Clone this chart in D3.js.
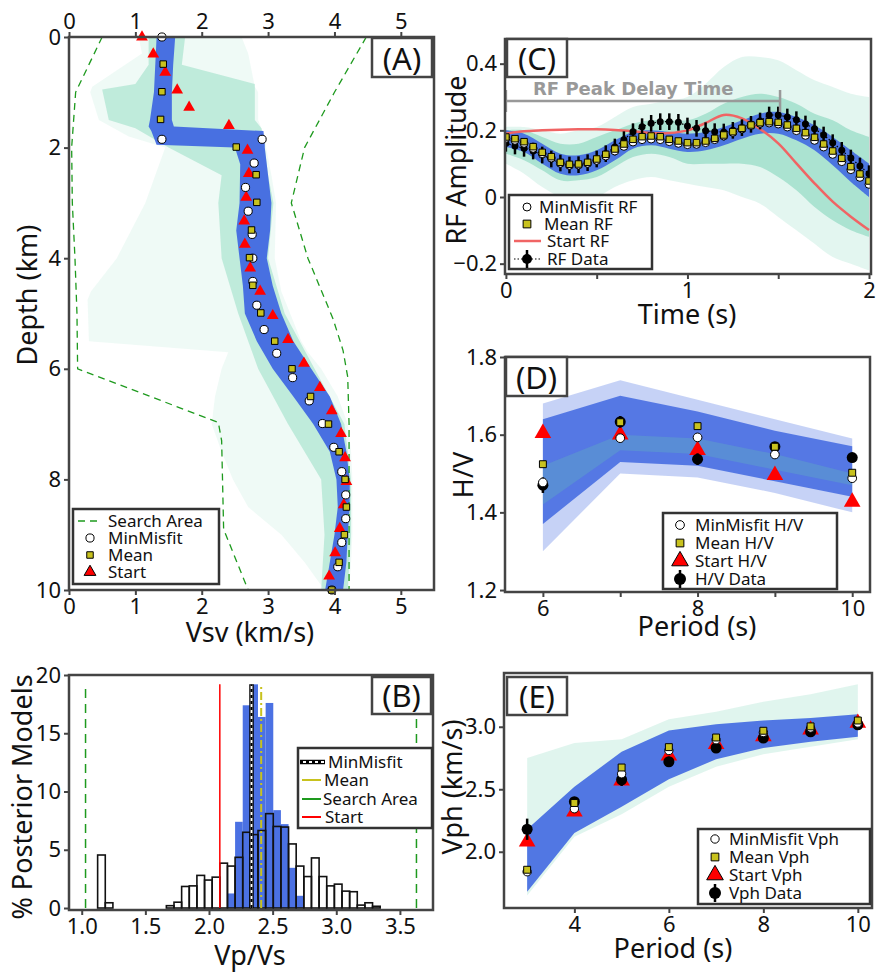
<!DOCTYPE html>
<html lang="en">
<head>
<meta charset="UTF-8">
<title>Joint inversion results</title>
<script src="https://d3js.org/d3.v7.min.js"></script>
<style>
  body { margin: 0; background: #fff; }
  svg { display: block; font-family: 'Noto Sans', sans-serif; }
  .frame { fill: none; stroke: #444; stroke-width: 2.5; }
  .tick line { stroke: #444; stroke-width: 2; }
  .tick text { font-size: 22px; fill: #111; font-family: 'Noto Sans', sans-serif; }
  .ax-title { font-size: 27px; fill: #111; }
  .leg text { font-size: 17px; fill: #111; }
  .plabel { font-size: 31px; fill: #111; }
</style>
</head>
<body>
<svg width="876" height="978"></svg>
<script>
// ---------- (A) Vsv vs depth ----------
const searchLeft = [[0.5,0],[0.3,0.5],[0.1,1.0],[0.04,2.0],[0.05,3.0],[0.09,4.0],[0.12,5.0],[0.13,6.0],[2.25,6.97],[2.3,7.3],[2.33,8.9],[2.7,10]];
const searchRight = [[4.48,0],[4.0,1.0],[3.55,2.0],[3.35,3.0],[3.6,4.0],[3.98,5.1],[4.13,5.67],[4.2,6.15],[4.22,7.0],[4.22,10]];

const aBandDepth  = [0, 0.5, 1.0, 1.5, 1.62, 1.7, 1.95, 2.0, 2.3, 3.0, 3.5, 4.0, 4.5, 5.0, 5.5, 6.0, 6.5, 7.0, 7.5, 8.0, 8.5, 9.0, 9.5, 10];
const aBlueLo     = [1.32,1.30,1.28,1.22,1.20,1.24,1.32,2.5,2.58,2.57,2.52,2.57,2.62,2.65,2.83,3.07,3.38,3.68,3.93,4.03,4.05,4.0,3.93,3.86];
const aBlueHi     = [1.6,1.57,1.55,1.55,1.58,2.93,2.95,2.95,2.98,3.05,3.03,2.98,3.07,3.2,3.38,3.65,3.93,4.1,4.18,4.23,4.23,4.2,4.18,4.13];

const aGreenDepth = [0, 0.3, 0.9, 1.0, 1.5, 1.8, 2.0, 2.5, 3.0, 4.0, 4.6, 4.75, 5.5, 5.7, 6.0, 6.5, 7.0, 7.5, 8.0, 8.5, 9.0, 9.5, 10];
const aGreenLo    = [1.05,1.1,0.35,0.32,0.45,0.9,1.45,1.3,1.15,0.72,0.33,0.28,0.3,2.4,2.3,2.2,2.15,2.3,2.47,2.7,3.2,3.55,3.85];
const aGreenHi    = [2.6,2.7,2.8,2.85,2.85,2.95,2.97,3.05,3.12,3.1,3.2,3.25,3.5,3.6,3.8,4.05,4.2,4.25,4.27,4.27,4.27,4.25,4.22];

const aCoreDepth  = [0, 0.5, 0.85, 0.95, 1.5, 1.65, 2.0, 2.5, 3, 4, 5, 6, 7, 8, 9, 10];
const aCoreLo     = [1.2,1.2,1.0,0.5,0.6,1.0,1.5,2.3,2.25,2.3,2.55,2.85,3.3,3.8,3.85,3.8];
const aCoreHi     = [1.75,1.7,2.8,2.8,2.8,2.9,2.95,3.0,3.08,3.0,3.25,3.7,4.15,4.25,4.25,4.2];

const aMinMisfit = [[1.40,0],[1.40,1.85],[2.91,1.85],[2.79,2.28],[2.66,2.72],[2.70,3.15],[2.76,3.57],[2.77,4.0],[2.77,4.42],[2.83,4.85],[2.94,5.29],[3.13,5.72],[3.37,6.16],[3.62,6.58],[3.82,6.99],[3.99,7.42],[4.11,7.86],[4.17,8.28],[4.17,8.71],[4.11,9.14],[4.05,9.58],[3.96,10.0]];
const aMean = [[1.42,0.49],[1.40,0.99],[1.38,1.49],[2.52,1.99],[2.82,2.49],[2.83,2.99],[2.75,3.49],[2.72,3.99],[2.77,4.49],[2.89,4.99],[3.10,5.50],[3.36,6.0],[3.64,6.5],[3.91,7.0],[4.07,7.5],[4.16,8.0],[4.18,8.5],[4.15,9.0],[4.07,9.5],[3.96,10.0]];
const aStart = [[1.10,0.0],[1.27,0.31],[1.45,0.64],[1.63,0.96],[1.81,1.27],[2.41,1.6],[2.69,2.05],[2.71,2.47],[2.67,2.9],[2.64,3.33],[2.65,3.75],[2.73,4.18],[2.88,4.6],[3.07,5.04],[3.30,5.47],[3.54,5.9],[3.78,6.34],[3.96,6.76],[4.10,7.17],[4.16,7.61],[4.18,8.04],[4.14,8.46],[4.08,8.89],[4.01,9.33],[3.92,9.75]];

// ---------- (B) Vp/Vs histogram ----------
const vpvsBinStart = 1.125, vpvsBinWidth = 0.06;
const priorPct = [4.55,0.45,0,0,0,0,0,0,0,0.2,0.5,1.85,1.9,2.8,2.4,2.65,3.85,3.6,4.35,6.5,6.3,6.65,8.1,7.0,6.95,5.5,3.6,2.7,4.3,2.7,1.9,2.05,1.45,1.4,0.25,0.45,0.15];
const postPct  = [0,0,0,0,0,0,0,0,0,0,0,0,0,0,0,0,0,1.25,7.4,17.4,19.2,16.4,17.6,8.4,7.2,3.45,1.05,0,0,0,0,0,0,0,0,0,0];
const vpvsLines = { minMisfit: 2.334, mean: 2.41, start: 2.085, searchLo: 1.03, searchHi: 3.63, top: 19.2 };

// ---------- (C) receiver function ----------
const rfTime = d3.range(41).map(i => i * 0.05);
const rfMean = [0.180,0.175,0.166,0.151,0.134,0.121,0.104,0.098,0.099,0.104,0.114,0.128,0.144,0.159,0.173,0.181,0.183,0.181,0.173,0.168,0.163,0.163,0.168,0.176,0.186,0.196,0.206,0.216,0.223,0.226,0.224,0.216,0.206,0.193,0.179,0.159,0.138,0.116,0.091,0.069,0.048];
const rfMinMisfit = [0.176,0.170,0.161,0.146,0.130,0.117,0.101,0.095,0.096,0.101,0.110,0.123,0.138,0.152,0.165,0.172,0.174,0.172,0.166,0.161,0.157,0.158,0.163,0.172,0.183,0.194,0.204,0.214,0.221,0.222,0.219,0.210,0.199,0.185,0.170,0.150,0.128,0.106,0.082,0.059,0.038];
const rfData = [0.161,0.153,0.146,0.138,0.126,0.114,0.102,0.096,0.097,0.103,0.114,0.130,0.150,0.172,0.196,0.211,0.221,0.226,0.226,0.224,0.213,0.206,0.199,0.196,0.195,0.200,0.208,0.218,0.228,0.246,0.246,0.240,0.232,0.219,0.205,0.186,0.163,0.140,0.117,0.093,0.070];
const rfErr = 0.025;
const rfBandTime = [0,0.1,0.2,0.3,0.4,0.5,0.6,0.7,0.8,0.9,1.0,1.1,1.2,1.3,1.4,1.5,1.6,1.7,1.8,1.9,2.0];
const rfStart   = [0.19,0.197,0.2,0.202,0.203,0.203,0.201,0.197,0.192,0.192,0.2,0.222,0.246,0.236,0.204,0.161,0.101,0.041,-0.014,-0.059,-0.099];
const rfBlueLo  = [0.15,0.135,0.1,0.07,0.065,0.08,0.11,0.145,0.155,0.145,0.135,0.14,0.155,0.175,0.19,0.19,0.17,0.14,0.095,0.045,0.0];
const rfBlueHi  = [0.2,0.19,0.16,0.13,0.125,0.14,0.17,0.195,0.2,0.195,0.19,0.195,0.21,0.23,0.25,0.255,0.24,0.215,0.18,0.14,0.1];
const rfGreenLo = [0.10,0.07,0.03,0.0,-0.01,0.0,0.03,0.05,0.06,0.05,0.04,0.03,0.02,0.0,-0.02,-0.06,-0.1,-0.14,-0.18,-0.2,-0.22];
const rfGreenHi = [0.21,0.21,0.2,0.19,0.2,0.21,0.24,0.27,0.28,0.29,0.3,0.34,0.39,0.42,0.42,0.41,0.38,0.35,0.33,0.31,0.3];
const rfCoreLo  = [0.13,0.11,0.08,0.05,0.05,0.06,0.09,0.12,0.13,0.12,0.1,0.1,0.1,0.1,0.09,0.06,0.02,-0.03,-0.07,-0.1,-0.12];
const rfCoreHi  = [0.2,0.2,0.18,0.16,0.16,0.18,0.2,0.22,0.23,0.23,0.23,0.25,0.28,0.3,0.31,0.3,0.28,0.25,0.23,0.2,0.18];
const rfPeak = { t: 1.51, amp: 0.288 };

// ---------- (D) H/V ----------
const hvPeriod = [6, 7, 8, 9, 10];
const hvData = [1.470, 1.633, 1.537, 1.569, 1.541];
const hvErr = [0.02, 0.015, 0.015, 0.012, 0.012];
const hvMinMisfit = [1.477, 1.591, 1.593, 1.549, 1.488];
const hvMean = [1.524, 1.632, 1.622, 1.569, 1.502];
const hvStart = [1.604, 1.600, 1.560, 1.496, 1.427];
const hvOuterLo = [1.30, 1.50, 1.49, 1.45, 1.40];
const hvOuterHi = [1.68, 1.74, 1.69, 1.64, 1.59];
const hvInnerLo = [1.37, 1.53, 1.52, 1.48, 1.44];
const hvInnerHi = [1.64, 1.70, 1.66, 1.61, 1.57];
const hvCoreLo = [1.42, 1.56, 1.55, 1.51, 1.47];
const hvCoreHi = [1.52, 1.60, 1.59, 1.55, 1.50];

// ---------- (E) Vph dispersion ----------
const vphPeriod = [3, 4, 5, 6, 7, 8, 9, 10];
const vphData = [2.18, 2.40, 2.576, 2.72, 2.83, 2.91, 2.96, 3.016];
const vphErr = [0.085, 0.03, 0.05, 0.04, 0.03, 0.025, 0.025, 0.02];
const vphMinMisfit = [1.84, 2.344, 2.624, 2.81, 2.896, 2.954, 2.99, 3.03];
const vphMean = [1.856, 2.39, 2.674, 2.837, 2.914, 2.968, 3.003, 3.05];
const vphStart = [2.08, 2.32, 2.568, 2.768, 2.86, 2.922, 2.976, 3.03];
const vphGreenLo = [1.65, 2.12, 2.30, 2.52, 2.68, 2.78, 2.84, 2.90];
const vphGreenHi = [2.75, 2.87, 2.90, 3.06, 3.12, 3.20, 3.26, 3.34];
const vphBlueLo = [1.68, 2.15, 2.36, 2.58, 2.74, 2.83, 2.88, 2.92];
const vphBlueHi = [2.18, 2.52, 2.80, 2.97, 3.02, 3.05, 3.07, 3.10];

// ---------- styles ----------
const BLUE = "#4169e1", GREEN = "#66cdaa", RED = "#ff0000", YEL = "#c8c21e", SEARCH = "#1e9a1e";

const svg = d3.select("svg");

function frame(x, y) {
  const [x0, x1] = x.range(), [y1, y0] = y.range();
  return svg.append("rect").attr("class", "frame")
    .attr("x", x0).attr("y", Math.min(y0, y1)).attr("width", x1 - x0).attr("height", Math.abs(y1 - y0));
}
function axis(gen, tx, ty) {
  const g = svg.append("g").attr("transform", `translate(${tx},${ty})`).call(gen);
  g.select(".domain").remove();
  return g;
}
function clipFor(id, x, y) {
  const [x0, x1] = x.range(), [y1, y0] = y.range();
  svg.append("clipPath").attr("id", id).append("rect")
    .attr("x", x0).attr("y", Math.min(y0, y1)).attr("width", x1 - x0).attr("height", Math.abs(y1 - y0));
  return svg.append("g").attr("clip-path", `url(#${id})`);
}
function sym(g, type, size, fill, stroke, sw) {
  return g.attr("d", d3.symbol().type(type).size(size)).attr("fill", fill)
    .attr("stroke", stroke).attr("stroke-width", sw);
}
function markers(g, pts, type, size, fill, stroke) {
  g.selectAll(null).data(pts).enter().append("path")
    .attr("transform", d => `translate(${d[0]},${d[1]})`)
    .call(s => sym(s, type, size, fill, stroke, 1));
}
function plabel(x, y, w, h, txt) {
  svg.append("rect").attr("x", x).attr("y", y).attr("width", w).attr("height", h)
    .attr("fill", "#fff").attr("stroke", "#444").attr("stroke-width", 2.5);
  svg.append("text").attr("class", "plabel").attr("x", x + w / 2).attr("y", y + h - 7)
    .attr("text-anchor", "middle").text(txt);
}
function title(txt, x, y, rot) {
  svg.append("text").attr("class", "ax-title").attr("text-anchor", "middle")
    .attr("transform", `translate(${x},${y})` + (rot ? " rotate(-90)" : "")).text(txt);
}
function legendBox(x, y, w, h) {
  const g = svg.append("g").attr("class", "leg");
  g.append("rect").attr("x", x).attr("y", y).attr("width", w).attr("height", h)
    .attr("fill", "#fff").attr("stroke", "#333").attr("stroke-width", 2.5);
  return g;
}
function legText(g, x, y, txt) {
  g.append("text").attr("x", x).attr("y", y).attr("dy", "0.35em").text(txt);
}
function legSym(g, x, y, type, size, fill) {
  g.append("path").attr("transform", `translate(${x},${y})`).call(s => sym(s, type, size, fill, "#000", 1));
}
function legData(g, x, y, r, dotted) {
  if (dotted) g.append("line").attr("x1", x - 13).attr("x2", x + 13).attr("y1", y).attr("y2", y)
    .attr("stroke", "#000").attr("stroke-width", 1.2).attr("stroke-dasharray", "1.5,2");
  g.append("line").attr("x1", x).attr("x2", x).attr("y1", y - 9).attr("y2", y + 9).attr("stroke", "#000").attr("stroke-width", 2.5);
  g.append("circle").attr("cx", x).attr("cy", y).attr("r", r).attr("fill", "#000");
}
function errData(g, xs, vals, errs, x, y, r) {
  const pts = xs.map((p, i) => ({ p, v: vals[i], e: Array.isArray(errs) ? errs[i] : errs }));
  g.selectAll(null).data(pts).enter().append("line")
    .attr("x1", d => x(d.p)).attr("x2", d => x(d.p))
    .attr("y1", d => y(d.v - d.e)).attr("y2", d => y(d.v + d.e))
    .attr("stroke", "#000").attr("stroke-width", 2.5);
  g.selectAll(null).data(pts).enter().append("circle")
    .attr("cx", d => x(d.p)).attr("cy", d => y(d.v)).attr("r", r).attr("fill", "#000");
}
const SQ = 42, CI = 52, TRI = 60;

// ================= Panel A =================
{
  const x = d3.scaleLinear().domain([0, 5.5]).range([69, 434]);
  const y = d3.scaleLinear().domain([0, 10]).range([37, 590]);
  const g = clipFor("clipA", x, y);
  const band = (dep, lo, hi, col, op) => g.append("path")
    .datum(dep.map((d, i) => [d, lo[i], hi[i]]))
    .attr("d", d3.area().y(d => y(d[0])).x0(d => x(d[1])).x1(d => x(d[2])))
    .attr("fill", col).attr("opacity", op);
  band(aGreenDepth, aGreenLo, aGreenHi, GREEN, 0.1);
  band(aCoreDepth, aCoreLo, aCoreHi, GREEN, 0.35);
  band(aBandDepth, aBlueLo, aBlueHi, BLUE, 0.95);
  const ln = d3.line().x(d => x(d[0])).y(d => y(d[1]));
  [searchLeft, searchRight].forEach(s => g.append("path").attr("d", ln(s)).attr("fill", "none")
    .attr("stroke", SEARCH).attr("stroke-width", 1.3).attr("stroke-dasharray", "7,5"));
  const m = svg.append("g");
  markers(m, aStart.map(d => [x(d[0]), y(d[1])]), d3.symbolTriangle, TRI, RED, "none");
  markers(m, aMinMisfit.map(d => [x(d[0]), y(d[1])]), d3.symbolCircle, CI, "#fff", "#000");
  markers(m, aMean.map(d => [x(d[0]), y(d[1])]), d3.symbolSquare, SQ, YEL, "#000");
  frame(x, y);
  axis(d3.axisTop(x).tickValues([0,1,2,3,4,5]).tickFormat(d3.format("d")).tickSize(5).tickPadding(3), 0, 37);
  axis(d3.axisBottom(x).tickValues([0,1,2,3,4,5]).tickFormat(d3.format("d")).tickSize(5).tickPadding(3), 0, 590);
  axis(d3.axisLeft(y).tickValues([0,2,4,6,8,10]).tickFormat(d3.format("d")).tickSize(5).tickPadding(3), 69, 0);
  title("Depth (km)", 37, 295, true);
  title("Vsv (km/s)", 250, 642, false);
  plabel(372, 38, 60, 39, "(A)");
  const L = legendBox(73, 509, 146, 75);
  L.append("line").attr("x1", 78).attr("x2", 102).attr("y1", 521).attr("y2", 521)
    .attr("stroke", SEARCH).attr("stroke-width", 1.3).attr("stroke-dasharray", "7,5");
  legSym(L, 90, 538, d3.symbolCircle, CI, "#fff");
  legSym(L, 90, 555, d3.symbolSquare, SQ, YEL);
  legSym(L, 90, 572, d3.symbolTriangle, TRI, RED);
  legText(L, 108, 521, "Search Area");
  legText(L, 108, 538, "MinMisfit");
  legText(L, 108, 555, "Mean");
  legText(L, 108, 572, "Start");
}

// ================= Panel B =================
{
  const x = d3.scaleLinear().domain([0.9, 3.76]).range([69, 433]);
  const y = d3.scaleLinear().domain([-0.17, 20]).range([910, 675]);
  const bins = priorPct.map((p, i) => ({ x0: vpvsBinStart + i * vpvsBinWidth, prior: p, post: postPct[i] }));
  const bw = x(vpvsBinWidth) - x(0);
  svg.append("g").selectAll("rect").data(bins.filter(b => b.post > 0)).enter().append("rect")
    .attr("x", d => x(d.x0)).attr("width", bw).attr("y", d => y(d.post)).attr("height", d => y(0) - y(d.post))
    .attr("fill", BLUE).attr("opacity", 0.95);
  svg.append("g").selectAll("rect").data(bins.filter(b => b.prior > 0)).enter().append("rect")
    .attr("x", d => x(d.x0)).attr("width", bw).attr("y", d => y(d.prior)).attr("height", d => y(0) - y(d.prior))
    .attr("fill", "none").attr("stroke", "#111").attr("stroke-width", 1.6);
  const vline = (v, col, w, dash) => svg.append("line").attr("x1", x(v)).attr("x2", x(v))
    .attr("y1", y(0)).attr("y2", y(vpvsLines.top)).attr("stroke", col).attr("stroke-width", w)
    .attr("stroke-dasharray", dash);
  vline(vpvsLines.searchLo, SEARCH, 1.5, "9,6");
  vline(vpvsLines.searchHi, SEARCH, 1.5, "9,6");
  vline(vpvsLines.start, RED, 1.5, null);
  vline(vpvsLines.minMisfit, "#000", 4.5, null);
  vline(vpvsLines.minMisfit, "#fff", 2, null);
  vline(vpvsLines.minMisfit, "#000", 2, "3,3");
  vline(vpvsLines.mean, YEL, 2, "8,3,2,3");
  frame(x, y);
  axis(d3.axisBottom(x).tickValues([1.0,1.5,2.0,2.5,3.0,3.5]).tickFormat(d3.format(".1f")).tickSize(5).tickPadding(3), 0, 910);
  axis(d3.axisLeft(y).tickValues([0,5,10,15,20]).tickSize(5).tickPadding(3), 69, 0);
  title("% Posterior Models", 32, 797, true);
  title("Vp/Vs", 250, 965, false);
  plabel(372, 677, 59, 37, "(B)");
  const L = legendBox(298, 748, 134, 80);
  L.append("line").attr("x1", 300).attr("x2", 325).attr("y1", 762).attr("y2", 762).attr("stroke", "#000").attr("stroke-width", 4.5);
  L.append("line").attr("x1", 300).attr("x2", 325).attr("y1", 762).attr("y2", 762).attr("stroke", "#fff").attr("stroke-width", 2);
  L.append("line").attr("x1", 300).attr("x2", 325).attr("y1", 762).attr("y2", 762).attr("stroke", "#000").attr("stroke-width", 2).attr("stroke-dasharray", "3,3");
  [[YEL, 780], [SEARCH, 799], [RED, 817]].forEach(([c, yy]) =>
    L.append("line").attr("x1", 302).attr("x2", 321).attr("y1", yy).attr("y2", yy).attr("stroke", c).attr("stroke-width", 2));
  legText(L, 328, 762, "MinMisfit");
  legText(L, 324, 780, "Mean");
  legText(L, 323, 799, "Search Area");
  legText(L, 325, 817, "Start");
}

// ================= Panel C =================
{
  const x = d3.scaleLinear().domain([-0.005, 2.011]).range([505, 871]);
  const y = d3.scaleLinear().domain([-0.231, 0.474]).range([274, 39]);
  const g = clipFor("clipC", x, y);
  const band = (lo, hi, col, op) => g.append("path")
    .datum(rfBandTime.map((t, i) => [t, lo[i], hi[i]]))
    .attr("d", d3.area().curve(d3.curveCatmullRom).x(d => x(d[0])).y0(d => y(d[1])).y1(d => y(d[2])))
    .attr("fill", col).attr("opacity", op);
  band(rfGreenLo, rfGreenHi, GREEN, 0.18);
  band(rfCoreLo, rfCoreHi, GREEN, 0.45);
  band(rfBlueLo, rfBlueHi, BLUE, 0.9);
  g.append("path").datum(rfBandTime.map((t, i) => [t, rfStart[i]]))
    .attr("d", d3.line().curve(d3.curveCatmullRom).x(d => x(d[0])).y(d => y(d[1])))
    .attr("fill", "none").attr("stroke", "#f06464").attr("stroke-width", 2.5);
  g.append("path").datum(rfTime.map((t, i) => [t, rfData[i]]))
    .attr("d", d3.line().x(d => x(d[0])).y(d => y(d[1])))
    .attr("fill", "none").attr("stroke", "#000").attr("stroke-width", 1.2).attr("stroke-dasharray", "1.5,2");
  errData(g, rfTime, rfData, rfErr, x, y, 3.5);
  markers(g, rfTime.map((t, i) => [x(t), y(rfMinMisfit[i])]), d3.symbolCircle, 50, "#fff", "#000");
  markers(g, rfTime.map((t, i) => [x(t), y(rfMean[i])]), d3.symbolSquare, 42, YEL, "#000");
  // peak delay annotation
  const py = y(rfPeak.amp);
  svg.append("line").attr("x1", x(0)).attr("x2", x(rfPeak.t)).attr("y1", py).attr("y2", py).attr("stroke", "#999").attr("stroke-width", 2.5);
  [0, rfPeak.t].forEach(t => svg.append("line").attr("x1", x(t)).attr("x2", x(t)).attr("y1", py - 11).attr("y2", py + 11).attr("stroke", "#999").attr("stroke-width", 2.5));
  svg.append("text").attr("x", 533).attr("y", 95).attr("fill", "#999")
    .style("font-family", "'DejaVu Sans', sans-serif").style("font-weight", "bold").style("font-size", "18px")
    .text("RF Peak Delay Time");
  frame(x, y);
  axis(d3.axisBottom(x).tickValues([0,0.5,1,1.5,2]).tickFormat(d => d % 1 === 0 ? d : "").tickSize(5).tickPadding(3), 0, 274);
  axis(d3.axisLeft(y).tickValues([-0.2,0,0.2,0.4]).tickFormat(d => d === 0 ? "0" : d3.format(".1f")(d)).tickSize(5).tickPadding(3), 505, 0);
  title("RF Amplitude", 466, 160, true);
  title("Time (s)", 687, 324, false);
  plabel(507, 39, 60, 38, "(C)");
  const L = legendBox(509, 195, 143, 74);
  legSym(L, 527, 207, d3.symbolCircle, 50, "#fff");
  legSym(L, 527, 224, d3.symbolSquare, 60, YEL);
  L.append("line").attr("x1", 514).attr("x2", 541).attr("y1", 241).attr("y2", 241).attr("stroke", "#f06464").attr("stroke-width", 2.5);
  legData(L, 527, 259, 5, true);
  legText(L, 539, 207, "MinMisfit RF");
  legText(L, 544, 224, "Mean RF");
  legText(L, 547, 241, "Start RF");
  legText(L, 547, 259, "RF Data");
}

// ================= Panel D =================
{
  const x = d3.scaleLinear().domain([5.51, 10.23]).range([505, 870]);
  const y = d3.scaleLinear().domain([1.195, 1.8]).range([592, 357]);
  const g = clipFor("clipD", x, y);
  const band = (lo, hi, col, op) => g.append("path")
    .datum(hvPeriod.map((p, i) => [p, lo[i], hi[i]]))
    .attr("d", d3.area().x(d => x(d[0])).y0(d => y(d[1])).y1(d => y(d[2])))
    .attr("fill", col).attr("opacity", op);
  band(hvOuterLo, hvOuterHi, BLUE, 0.3);
  band(hvInnerLo, hvInnerHi, BLUE, 0.85);
  band(hvCoreLo, hvCoreHi, GREEN, 0.25);
  markers(g, hvPeriod.map((p, i) => [x(p), y(hvStart[i])]), d3.symbolTriangle, 120, RED, "none");
  errData(g, hvPeriod, hvData, hvErr, x, y, 5.5);
  markers(g, hvPeriod.map((p, i) => [x(p), y(hvMinMisfit[i])]), d3.symbolCircle, 60, "#fff", "#000");
  markers(g, hvPeriod.map((p, i) => [x(p), y(hvMean[i])]), d3.symbolSquare, 48, YEL, "#000");
  frame(x, y);
  axis(d3.axisBottom(x).tickValues([6,7,8,9,10]).tickFormat(d => d % 2 === 0 ? d : "").tickSize(5).tickPadding(3), 0, 592);
  axis(d3.axisLeft(y).tickValues([1.2,1.4,1.6,1.8]).tickFormat(d3.format(".1f")).tickSize(5).tickPadding(3), 505, 0);
  title("H/V", 473, 475, true);
  title("Period (s)", 697, 636, false);
  plabel(506, 357, 61, 39, "(D)");
  const L = legendBox(663, 513, 174, 76);
  legSym(L, 680, 525, d3.symbolCircle, 60, "#fff");
  legSym(L, 680, 543, d3.symbolSquare, 60, YEL);
  legSym(L, 680, 561, d3.symbolTriangle, 120, RED);
  legData(L, 680, 579, 6, false);
  legText(L, 695, 525, "MinMisfit H/V");
  legText(L, 695, 543, "Mean H/V");
  legText(L, 695, 561, "Start H/V");
  legText(L, 695, 579, "H/V Data");
}

// ================= Panel E =================
{
  const x = d3.scaleLinear().domain([2.51, 10.3]).range([504, 872]);
  const y = d3.scaleLinear().domain([1.55, 3.43]).range([908, 673]);
  const g = clipFor("clipE", x, y);
  const band = (lo, hi, col, op) => g.append("path")
    .datum(vphPeriod.map((p, i) => [p, lo[i], hi[i]]))
    .attr("d", d3.area().x(d => x(d[0])).y0(d => y(d[1])).y1(d => y(d[2])))
    .attr("fill", col).attr("opacity", op);
  band(vphGreenLo, vphGreenHi, GREEN, 0.2);
  band(vphBlueLo, vphBlueHi, BLUE, 0.9);
  markers(g, vphPeriod.map((p, i) => [x(p), y(vphStart[i])]), d3.symbolTriangle, 120, RED, "none");
  errData(g, vphPeriod, vphData, vphErr, x, y, 5.5);
  markers(g, vphPeriod.map((p, i) => [x(p), y(vphMinMisfit[i])]), d3.symbolCircle, 55, "#fff", "#000");
  markers(g, vphPeriod.map((p, i) => [x(p), y(vphMean[i])]), d3.symbolSquare, 48, YEL, "#000");
  frame(x, y);
  axis(d3.axisBottom(x).tickValues([4,6,8,10]).tickSize(5).tickPadding(3), 0, 908);
  axis(d3.axisLeft(y).tickValues([2.0,2.5,3.0]).tickFormat(d3.format(".1f")).tickSize(5).tickPadding(3), 504, 0);
  title("Vph (km/s)", 462, 787, true);
  title("Period (s)", 673, 958, false);
  plabel(507, 677, 60, 38, "(E)");
  const L = legendBox(698, 829, 172, 75);
  legSym(L, 715, 839, d3.symbolCircle, 55, "#fff");
  legSym(L, 715, 857, d3.symbolSquare, 60, YEL);
  legSym(L, 715, 875, d3.symbolTriangle, 120, RED);
  legData(L, 715, 893, 6, false);
  legText(L, 729, 839, "MinMisfit Vph");
  legText(L, 729, 857, "Mean Vph");
  legText(L, 729, 875, "Start Vph");
  legText(L, 729, 893, "Vph Data");
}
</script>
</body>
</html>
